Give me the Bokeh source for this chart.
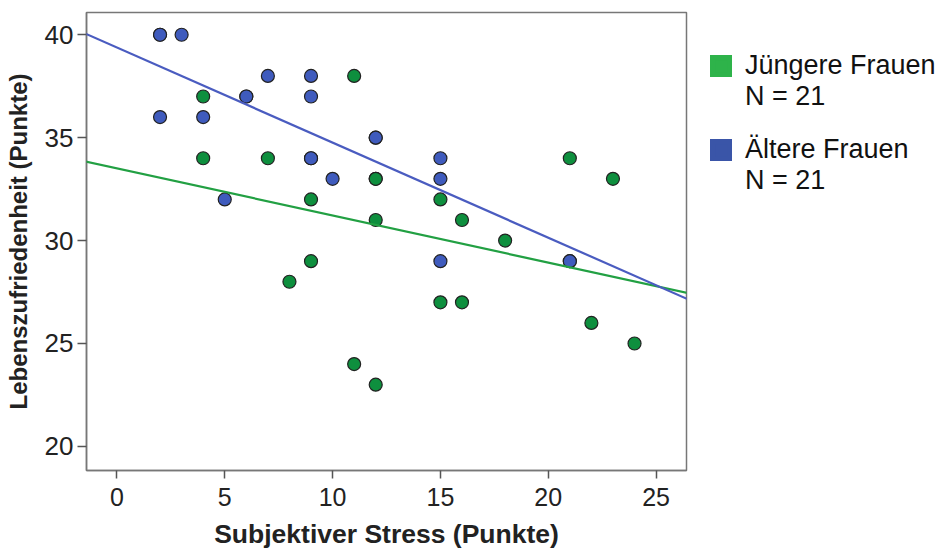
from bokeh.plotting import figure
from bokeh.models import Range1d, Slope, Legend, LegendItem, FixedTicker, ColumnDataSource
from bokeh.embed import file_html
from bokeh.resources import INLINE

# Jüngere Frauen (green)
young_x = [4, 4, 7, 9, 11, 12, 12, 12, 9, 8, 11, 12, 15, 15, 16, 16, 18, 21, 23, 22, 24]
young_y = [37, 34, 34, 32, 38, 33, 33, 31, 29, 28, 24, 23, 32, 27, 31, 27, 30, 34, 33, 26, 25]
# Ältere Frauen (blue)
old_x = [2, 3, 2, 4, 6, 6, 7, 9, 9, 9, 10, 12, 12, 5, 15, 15, 15, 21, 21, 2, 9]
old_y = [40, 40, 36, 36, 37, 37, 38, 38, 37, 34, 33, 35, 35, 32, 34, 33, 29, 29, 29, 40, 34]

# regression lines
young_slope, young_intercept = -0.229, 33.51
old_slope, old_intercept = -0.462, 39.38

x_ticks = [0, 5, 10, 15, 20, 25]
y_ticks = [20, 25, 30, 35, 40]
group_names = ["Jüngere Frauen", "Ältere Frauen"]
group_n = [21, 21]

GREEN_PT = "#0e8f3e"
BLUE_PT = "#3f5bbd"
GREEN_LN = "#22a043"
BLUE_LN = "#4a5cc0"
GREEN_LG = "#2eb34a"
BLUE_LG = "#3a55a8"
EDGE = "#444444"
FONT = "Liberation Sans"
NAN = float("nan")

p = figure(frame_width=600, frame_height=458,
           x_range=Range1d(-1.41, 26.41), y_range=Range1d(18.83, 41.08),
           output_backend="svg", toolbar_location=None,
           min_border_left=86, min_border_top=12, min_border_bottom=71, min_border_right=252)
p.xgrid.visible = False
p.ygrid.visible = False
p.outline_line_color = "#777777"
p.outline_line_width = 1.5
p.background_fill_color = "white"
p.border_fill_color = "white"

p.add_layout(Slope(gradient=young_slope, y_intercept=young_intercept, line_color=GREEN_LN, line_width=2.2))
p.add_layout(Slope(gradient=old_slope, y_intercept=old_intercept, line_color=BLUE_LN, line_width=2.2))

src_y = ColumnDataSource(dict(x=young_x, y=young_y))
src_o = ColumnDataSource(dict(x=old_x, y=old_y))
p.scatter("x", "y", source=src_y, size=13, fill_color=GREEN_PT, line_color="#222222", line_width=1.2)
p.scatter("x", "y", source=src_o, size=13, fill_color=BLUE_PT, line_color="#222222", line_width=1.2)

# legend-only swatches (not drawn in the plot: NaN coordinates)
def swatch(**kw):
    return p.quad(left=[NAN], right=[NAN], top=[NAN], bottom=[NAN], line_join="miter", **kw)

edge_sw = swatch(fill_alpha=0, line_color=EDGE, line_width=8)
green_sw = swatch(fill_color=GREEN_LG, line_color=GREEN_LG, line_width=6)
blue_sw = swatch(fill_color=BLUE_LG, line_color=BLUE_LG, line_width=6)
blank = swatch(fill_alpha=0, line_alpha=0)

items = [
    LegendItem(label=group_names[0], renderers=[edge_sw, green_sw]),
    LegendItem(label=f"N = {group_n[0]}", renderers=[blank]),
    LegendItem(label="", renderers=[blank]),
    LegendItem(label=group_names[1], renderers=[edge_sw, blue_sw]),
    LegendItem(label=f"N = {group_n[1]}", renderers=[blank]),
]
legend = Legend(items=items,
                location=(24, 274), glyph_width=22, glyph_height=22,
                label_text_font=FONT, label_text_font_size="27px", label_text_color="#111111",
                label_height=20,
                label_standoff=13, padding=0, margin=0, spacing=0,
                border_line_alpha=0, background_fill_alpha=0)
p.add_layout(legend, "right")

for ax in (p.xaxis[0], p.yaxis[0]):
    ax.axis_line_color = "#777777"
    ax.axis_line_width = 1.5
    ax.major_tick_line_color = "#555555"
    ax.major_tick_line_width = 1.5
    ax.major_tick_in = 0
    ax.minor_tick_line_color = None
    ax.major_label_text_font = FONT
    ax.major_label_text_color = "#222222"
    ax.axis_label_text_font = FONT
    ax.axis_label_text_font_style = "bold"
    ax.axis_label_text_color = "#222222"

p.xaxis.major_label_text_font_size = "25px"
p.yaxis.major_label_text_font_size = "26px"
p.xaxis.axis_label_text_font_size = "26.5px"
p.yaxis.axis_label_text_font_size = "24px"
p.xaxis.ticker = FixedTicker(ticks=x_ticks)
p.yaxis.ticker = FixedTicker(ticks=y_ticks)
p.xaxis.major_tick_out = 8
p.yaxis.major_tick_out = 9
p.xaxis.major_label_standoff = 9
p.yaxis.major_label_standoff = 4
p.xaxis.axis_label = "Subjektiver Stress (Punkte)"
p.yaxis.axis_label = "Lebenszufriedenheit (Punkte)"
p.xaxis.axis_label_standoff = 10
p.yaxis.axis_label_standoff = 10

open("out.html", "w").write(file_html(p, INLINE))
